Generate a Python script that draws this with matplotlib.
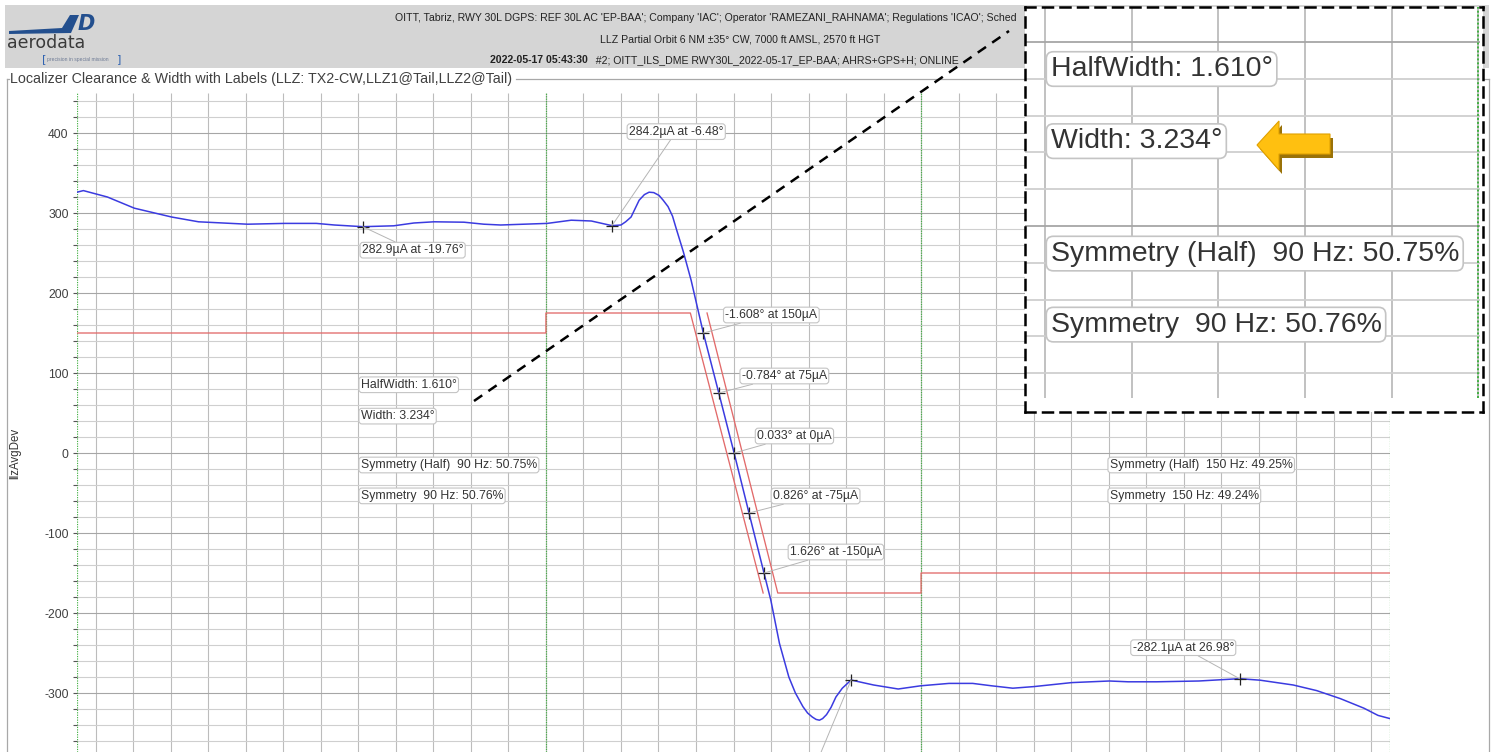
import numpy as np
import matplotlib
matplotlib.use("Agg")
import matplotlib.pyplot as plt
import matplotlib.transforms as mtransforms
from matplotlib.patches import Rectangle, Polygon
from matplotlib.lines import Line2D
from matplotlib.text import Annotation

plt.rcParams["axes.unicode_minus"] = False

# measured localizer deviation (uA) against orbit angle (deg)
angle_deg = [-35.0, -34.66, -33.38, -31.94, -29.96, -28.52, -25.91, -23.94, -22.24, -21.28,
             -19.76, -18.11, -17.04, -15.97, -14.37, -13.31, -12.41, -9.93, -8.65, -7.58,
             -6.48, -6.0, -5.75, -5.46, -5.03, -4.75, -4.50, -4.25, -3.97, -3.75, -3.49,
             -3.25, -3.06, -2.68, -2.26, -1.608, -0.784, 0.033, 0.826, 1.626, 1.99, 2.45,
             2.95, 3.30, 3.70, 3.95, 4.20, 4.40, 4.58, 4.75, 4.96, 5.20, 5.46, 5.80, 6.27,
             7.47, 8.78, 9.98, 11.49, 12.75, 13.76, 14.89, 16.01, 18.03, 20.04, 21.04,
             22.55, 24.81, 26.98, 28.08, 29.84, 31.09, 32.35, 33.61, 34.36, 35.0]
dev_ua = [326, 328, 320, 306, 295, 289, 286, 287, 287, 285,
          282.9, 284, 287.5, 289, 288.5, 286, 285, 287, 291, 290,
          284.2, 285, 289, 295, 316, 323, 326, 325.5, 322, 316, 308,
          296, 281, 252, 216, 150, 75, 0, -75, -150, -184, -238,
          -280, -300, -317, -325, -330, -333, -334, -332, -327, -318, -305, -294, -283.8,
          -290, -295, -291, -288, -288, -291, -294, -292, -287, -285, -286,
          -286, -285, -282.1, -284, -290, -297, -307, -319, -328, -332]

# clearance / width limit lines
limit_a_deg = [-35, -10, -10, -2.30, 1.58]
limit_a_ua = [150, 150, 175, 175, -175]
limit_b_deg = [-1.41, 2.36, 10, 10, 35]
limit_b_ua = [175, -175, -175, -150, -150]

# width points on the course
llz_deg = [-1.608, -0.784, 0.033, 0.826, 1.626]
llz_ua = [150, 75, 0, -75, -150]
llz_offsets = [(22, 18), (23, 17), (23, 17), (24, 17), (26, 21)]

# clearance extremes (labelled)
peak_deg = [-19.76, -6.48, 26.98]
peak_ua = [282.9, 284.2, -282.1]
peak_offsets = [(-1, -23.5), (17, 94), (-107, 31)]
# extreme whose label lies below the visible area
low_deg = [6.27]
low_ua = [-283.8]

left_notes = ["HalfWidth: 1.610°", "Width: 3.234°",
              "Symmetry (Half)  90 Hz: 50.75%", "Symmetry  90 Hz: 50.76%"]
left_note_ua = [85.3, 46.1, -15.0, -53.6]
right_notes = ["Symmetry (Half)  150 Hz: 49.25%", "Symmetry  150 Hz: 49.24%"]
right_note_ua = [-15.0, -53.6]

header_lines = [
    "OITT, Tabriz, RWY 30L DGPS: REF 30L AC 'EP-BAA'; Company 'IAC'; Operator "
    "'RAMEZANI_RAHNAMA'; Regulations 'ICAO'; Sched",
    "LLZ Partial Orbit 6 NM ±35° CW, 7000 ft AMSL, 2570 ft HGT",
]
header_date = "2022-05-17 05:43:30"
header_run = "  #2; OITT_ILS_DME RWY30L_2022-05-17_EP-BAA; AHRS+GPS+H; ONLINE"
chart_title = "Localizer Clearance & Width with Labels (LLZ: TX2-CW,LLZ1@Tail,LLZ2@Tail)"

W, H = 1491, 752
FONT = "Liberation Sans"
BLUE = "#3b3be0"
RED = "#e26a6a"
GREEN = "#45b045"

fig = plt.figure(figsize=(W / 100, H / 100), dpi=100)
fig.patch.set_facecolor("white")
# pixel coordinates, origin top-left (for the page furniture only)
px = mtransforms.Affine2D().scale(1 / W, -1 / H).translate(0, 1) + fig.transFigure

# ---- header band + logo
fig.add_artist(Rectangle((5, 5), 1484, 63, transform=px, fc="#d5d5d5", ec="none", zorder=1))
fig.add_artist(Polygon([(9, 31), (62, 28), (70, 15), (79, 15), (71, 33), (9, 34)],
                       closed=True, transform=px, fc="#234f8e", ec="none", zorder=2))
fig.text(86, 24, "D", transform=px, fontsize=15, fontweight="bold", style="italic",
         color="#234f8e", ha="center", va="center", zorder=3)
fig.text(7, 43, "aerodata", transform=px, fontsize=12.5, family="DejaVu Sans",
         color="#3a3a3a", ha="left", va="center", zorder=3)
fig.text(42, 59, "[", transform=px, fontsize=8, color="#2f62b0", ha="left", va="center", zorder=3)
fig.text(47, 59, "precision in special mission", transform=px, fontsize=3.6, family=FONT,
         color="#6d7a95", ha="left", va="center", zorder=3)
fig.text(117, 59, "]", transform=px, fontsize=8, color="#2f62b0", ha="left", va="center", zorder=3)

HDR = 7.6
fig.text(395, 18, header_lines[0], transform=px, fontsize=HDR, family=FONT,
         color="#222222", ha="left", va="center", zorder=3)
fig.text(740, 39, header_lines[1], transform=px, fontsize=HDR, family=FONT,
         color="#222222", ha="center", va="center", zorder=3)
t_date = fig.text(490, 60, header_date, transform=px, fontsize=HDR, family=FONT,
                  fontweight="bold", color="#222222", ha="left", va="center", zorder=3)
fig.add_artist(Annotation(header_run, xy=(1, 0.5), xycoords=t_date, xytext=(2, 0),
                          textcoords="offset pixels", fontsize=HDR, family=FONT,
                          color="#222222", ha="left", va="center", zorder=3))

# ---- group box with chart title
fig.text(10, 79, chart_title, transform=px, fontsize=10.3, family=FONT,
         color="#404040", ha="left", va="center", zorder=3)
for xs, ys in [([7, 9], [79, 79]), ([516, 1489], [79, 79]),
               ([7, 7], [79, 752]), ([1489, 1489], [79, 752])]:
    fig.add_artist(Line2D(xs, ys, transform=px, color="#a8a8a8", lw=0.9, zorder=1))
fig.text(15, 453, "llzAvgDev", transform=px, fontsize=8.3, family=FONT, color="#333333",
         rotation=90, ha="center", va="center")


def draw_grid(ax, x_lo, x_hi, y_lo, y_hi, lw):
    ax.vlines(np.arange(-34, 35, 2), y_lo, y_hi, color="#bcbcbc", lw=lw, zorder=0)
    minor = [v for v in range(-360, 441, 20) if v % 100 and y_lo < v < y_hi]
    major = [v for v in range(-300, 401, 100) if y_lo < v < y_hi]
    ax.hlines(minor, x_lo, x_hi, color="#cfcfcf", lw=lw, zorder=0)
    ax.hlines(major, x_lo, x_hi, color="#a6a6a6", lw=lw, zorder=0)
    ax.vlines([-35, -10, 10, 35], y_lo, y_hi, color=GREEN, lw=lw * 1.1,
              linestyles=(0, (1, 1)), zorder=1)


def note_box(lw):
    return dict(boxstyle="round,pad=0.15,rounding_size=0.25", fc="white", ec="#c4c4c4", lw=lw)


# ---- main chart
ax = fig.add_axes([77 / W, 0, (1390 - 77) / W, (752 - 93) / H])
ax.set_xlim(-35, 35)
ax.set_ylim(-373.75, 450)
for s in ax.spines.values():
    s.set_visible(False)
draw_grid(ax, -35, 35, -373.75, 450, 0.8)

ax.set_yticks(np.arange(-300, 401, 100))
ax.set_yticks(np.arange(-360, 441, 20), minor=True)
ax.tick_params(axis="y", which="both", direction="out", length=3, width=0.8,
               color="#555555", labelsize=8.7, labelcolor="#404040", pad=3)
ax.tick_params(axis="x", which="both", length=0, labelbottom=False)
for lab in ax.get_yticklabels():
    lab.set_family(FONT)

ax.plot(limit_a_deg, limit_a_ua, color=RED, lw=0.95, zorder=3)
ax.plot(limit_b_deg, limit_b_ua, color=RED, lw=0.95, zorder=3)
ax.plot(angle_deg, dev_ua, color=BLUE, lw=1.1, zorder=4)
ax.plot(llz_deg + peak_deg + low_deg, llz_ua + peak_ua + low_ua, "+",
        color="#222222", ms=8, mew=0.9, zorder=5)

leader = dict(arrowstyle="-", color="#b5b5b5", lw=0.7, shrinkA=0, shrinkB=0)
for d, v, off in zip(llz_deg, llz_ua, llz_offsets):
    ax.annotate(f"{d:.3f}° at {v:.0f}µA", (d, v), xytext=off, textcoords="offset pixels",
                ha="left", va="center", fontsize=8.8, family=FONT, color="#333333",
                bbox=note_box(0.8), arrowprops=leader, zorder=6)
for d, v, off in zip(peak_deg, peak_ua, peak_offsets):
    ax.annotate(f"{v:.1f}µA at {d:.2f}°", (d, v), xytext=off, textcoords="offset pixels",
                ha="left", va="center", fontsize=8.8, family=FONT, color="#333333",
                bbox=note_box(0.8), arrowprops=leader, zorder=6)
for d, v in zip(low_deg, low_ua):
    # its label sits below the cropped area: only the leader shows
    ax.annotate("", (d, v), xytext=(-45, -108), textcoords="offset pixels",
                arrowprops=leader, zorder=6)

for txt, v in zip(left_notes, left_note_ua):
    ax.text(-19.87, v, txt, ha="left", va="center", fontsize=8.8, family=FONT,
            color="#333333", bbox=note_box(0.8), zorder=6)
for txt, v in zip(right_notes, right_note_ua):
    ax.text(20.06, v, txt, ha="left", va="center", fontsize=8.8, family=FONT,
            color="#333333", bbox=note_box(0.8), zorder=6)

# ---- dashed pointer to the magnified view
fig.add_artist(Line2D([474, 1009], [401, 31], transform=px, color="black", lw=1.8,
                      linestyle=(0, (4, 3)), zorder=4))

# ---- magnified view of the width / symmetry notes
ax_in = fig.add_axes([1025 / W, 1 - 412 / H, 458 / W, 405 / H], zorder=6)
ax_in.set_facecolor("white")
ax_in.set_xlim(-20.46, -9.89)
ax_in.set_ylim(-101.1, 119.0)
ax_in.set_xticks([])
ax_in.set_yticks([])
for s in ax_in.spines.values():
    s.set_linestyle((0, (4, 3)))
    s.set_linewidth(1.8)
    s.set_color("black")
draw_grid(ax_in, -20.46, -9.95, -93.5, 119.0, 1.3)
for txt, v in zip(left_notes, left_note_ua):
    ax_in.text(-19.87, v, txt, ha="left", va="center", fontsize=20.5, family=FONT,
               color="#333333", bbox=note_box(1.2), zorder=6)

arrow_shape = np.array([(1257, 145), (1279, 121), (1279, 134), (1330, 134),
                        (1330, 154), (1279, 154), (1279, 170)])
fig.add_artist(Polygon(arrow_shape + [3, 4], closed=True, transform=px,
                       fc="#9a7208", ec="none", zorder=7))
fig.add_artist(Polygon(arrow_shape, closed=True, transform=px,
                       fc="#ffc010", ec="#e0a000", lw=0.8, zorder=7))

fig.savefig("out.png", dpi=100)
